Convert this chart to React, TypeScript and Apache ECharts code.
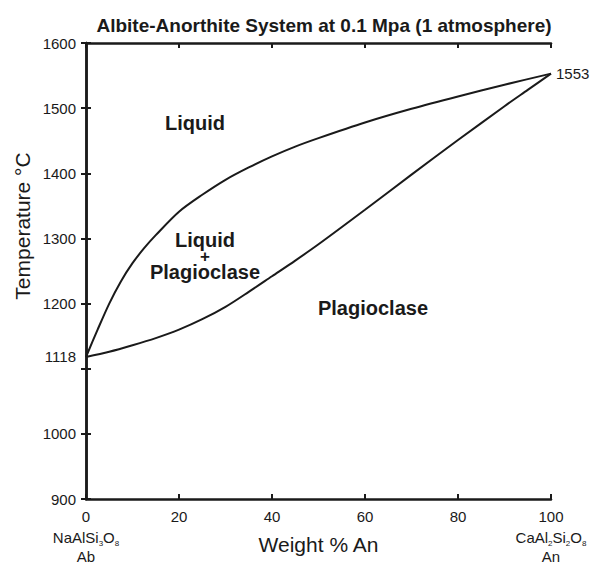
import React, { useEffect, useRef } from "react";
import * as echarts from "echarts";

const liquidusX = [0, 2.5, 5, 7.5, 10, 12.5, 15, 20, 25, 30, 35, 40, 45, 50, 60, 70, 80, 90, 100];
const liquidus = [1118, 1160, 1200, 1234, 1262, 1285, 1305, 1341, 1367, 1390, 1409, 1426, 1441, 1454, 1478, 1499, 1518, 1536, 1553];
const solidusX = [0, 5, 10, 15, 20, 25, 30, 35, 40, 45, 50, 60, 70, 80, 90, 95, 100];
const solidus = [1118, 1126, 1136, 1147, 1160, 1176, 1195, 1218, 1242, 1266, 1291, 1344, 1398, 1451, 1503, 1528, 1553];
const yLabelValues = [900, 1000, 1118, 1200, 1300, 1400, 1500, 1600];
const yTickValues = [900, 1000, 1100, 1200, 1300, 1400, 1500, 1600];
const rightLabelValues = [1553];

const FONT = "'Liberation Sans', Arial, sans-serif";
const INK = "#1a1a1a";

export default function App() {
  const ref = useRef<HTMLDivElement>(null);
  useEffect(() => {
    if (!ref.current) return;
    const chart = echarts.init(ref.current, null, { renderer: "svg" });
    const tickStyle = { show: true, inside: true, length: 5, lineStyle: { color: INK, width: 2 } };
    const lineStyle = { show: true, lineStyle: { color: INK, width: 2.5 } };
    chart.setOption({
      animation: false,
      textStyle: { fontFamily: FONT },
      title: {
        text: "Albite-Anorthite System at 0.1 Mpa (1 atmosphere)",
        left: 319,
        textAlign: "center",
        top: 11,
        textStyle: { fontSize: 19, fontWeight: "bold", color: INK, fontFamily: FONT },
      },
      grid: { left: 86, right: 55, top: 43, bottom: 68, show: false, containLabel: false, outerBoundsMode: "none" },
      xAxis: [
        {
          type: "value",
          position: "bottom",
          min: 0,
          max: 100,
          interval: 20,
          axisLine: lineStyle,
          axisTick: tickStyle,
          splitLine: { show: false },
          name: "Weight % An",
          nameLocation: "middle",
          nameGap: 35,
          nameMoveOverlap: false,
          nameTextStyle: { fontSize: 21, color: INK, fontFamily: FONT },
          axisLabel: {
            margin: 5,
            color: INK,
            fontFamily: FONT,
            formatter: (v: number) => {
              if (v === 0) return "{v|0}\n{c|NaAlSi}{s|3}{c|O}{s|8}\n{c|Ab}";
              if (v === 100) return "{v|100}\n{c|CaAl}{s|2}{c|Si}{s|2}{c|O}{s|8}\n{c|An}";
              return `{v|${v}}`;
            },
            rich: {
              v: { fontSize: 15, lineHeight: 24, color: INK, fontFamily: FONT },
              c: { fontSize: 15, lineHeight: 19, color: INK, fontFamily: FONT },
              s: { fontSize: 8, lineHeight: 11, verticalAlign: "bottom", color: INK, fontFamily: FONT },
            },
          },
        },
        {
          type: "value",
          position: "top",
          min: 0,
          max: 100,
          interval: 20,
          axisLine: lineStyle,
          axisTick: tickStyle,
          axisLabel: { show: false },
          splitLine: { show: false },
        },
      ],
      yAxis: [
        {
          type: "value",
          position: "left",
          min: 900,
          max: 1600,
          interval: 100,
          axisLine: lineStyle,
          axisTick: { ...tickStyle, customValues: yTickValues },
          splitLine: { show: false },
          axisLabel: {
            customValues: yLabelValues,
            formatter: (v: number) => String(v),
            fontSize: 15,
            color: INK,
            margin: 10,
            fontFamily: FONT,
          },
        },
        {
          type: "value",
          position: "right",
          min: 900,
          max: 1600,
          interval: 100,
          axisLine: lineStyle,
          axisTick: { ...tickStyle, customValues: yTickValues },
          splitLine: { show: false },
          axisLabel: {
            customValues: rightLabelValues,
            formatter: (v: number) => String(v),
            fontSize: 15,
            color: INK,
            margin: 5,
            fontFamily: FONT,
          },
        },
      ],
      series: [
        {
          name: "Liquidus",
          type: "line",
          data: liquidusX.map((x, i) => [x, liquidus[i]]),
          smooth: 0.3,
          showSymbol: false,
          lineStyle: { color: INK, width: 2 },
        },
        {
          name: "Solidus",
          type: "line",
          data: solidusX.map((x, i) => [x, solidus[i]]),
          smooth: 0.3,
          showSymbol: false,
          lineStyle: { color: INK, width: 2 },
        },
      ],
      graphic: [
        {
          type: "text",
          x: 22,
          y: 226,
          rotation: Math.PI / 2,
          style: { text: "Temperature °C", font: `21px ${FONT}`, fill: INK, align: "center", verticalAlign: "middle" },
        },
        { type: "text", x: 195, y: 123, style: { text: "Liquid", font: `bold 20px ${FONT}`, fill: INK, align: "center", verticalAlign: "middle" } },
        {
          type: "text",
          x: 205,
          y: 256,
          style: {
            text: "{a|Liquid}\n{p|+}\n{a|Plagioclase}",
            fill: INK,
            align: "center",
            verticalAlign: "middle",
            rich: {
              a: { font: `bold 20px ${FONT}`, fill: INK, lineHeight: 16, align: "center" },
              p: { font: `bold 17px ${FONT}`, fill: INK, lineHeight: 16, align: "center" },
            },
          },
        },
        { type: "text", x: 373, y: 308, style: { text: "Plagioclase", font: `bold 20px ${FONT}`, fill: INK, align: "center", verticalAlign: "middle" } },
      ],
    });
    return () => chart.dispose();
  }, []);
  return <div ref={ref} style={{ width: 606, height: 567, position: "absolute", left: 0, top: 0 }} />;
}
